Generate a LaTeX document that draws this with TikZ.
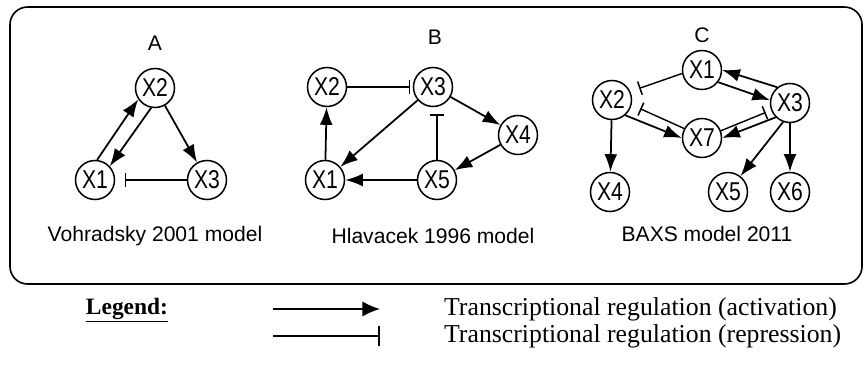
\documentclass[tikz,border=0pt]{standalone}
\usepackage{fontspec}
\setmainfont{Liberation Serif}
\newfontfamily\arialfont{Liberation Sans}
\newfontfamily\genefont[FakeStretch=0.82]{Liberation Sans}
\usetikzlibrary{arrows.meta}

\tikzset{
  gene/.style={draw,circle,line width=1.3pt,minimum size=1.17cm,inner sep=0pt,
    font=\genefont\fontsize{22}{22}\selectfont},
  panel/.style={font=\arialfont\fontsize{18}{20}\selectfont},
  act/.style={line width=1.5pt,-{Latex[length=15pt,width=11pt]}},
  rep/.style={line width=1.2pt,-{Bar[width=12pt,line width=1.3pt]},shorten >=#1},
  rep/.default=3pt
}

\begin{document}
\begin{tikzpicture}[x=0.03cm,y=-0.03cm]
\useasboundingbox (0,0) rectangle (864,368);
\draw[line width=1.4pt,rounded corners=15pt] (10,7) rectangle (862,284);

% model A
\node[panel] (labA) at (155,43) {A};
\node[gene] (a2) at (155,88) {X2};
\node[gene] (a1) at (95,180) {X1};
\node[gene] (a3) at (207,180) {X3};
\draw[act] (a1.84) -- (a2.214);
\draw[act] (a2.259) -- (a1.43);
\draw[act] (a2) -- (a3);
\draw[rep=8pt] (a3) -- (a1);
\node[panel] (capA) at (155,236) {Vohradsky 2001 model};

% model B
\node[panel] (labB) at (435,37) {B};
\node[gene] (b2) at (327,87) {X2};
\node[gene] (b3) at (433,87) {X3};
\node[gene] (b4) at (518,135) {X4};
\node[gene] (b1) at (325,180) {X1};
\node[gene] (b5) at (437,180) {X5};
\draw[rep=2pt] (b2) -- (b3);
\draw[act] (b1) -- (b2);
\draw[act] (b3) -- (b4);
\draw[act] (b4) -- (b5);
\draw[act] (b5) -- (b1);
\draw[act] (b3) -- (b1);
\draw[rep=6pt] (b5) -- (b5 |- b3.south);
\node[panel] (capB) at (433,236) {Hlavacek 1996 model};

% model C
\node[panel] (labC) at (702,35) {C};
\node[gene] (c1) at (702,70) {X1};
\node[gene] (c2) at (612,100) {X2};
\node[gene] (c3) at (790,103) {X3};
\node[gene] (c7) at (702,138) {X7};
\node[gene] (c4) at (610,192) {X4};
\node[gene] (c5) at (728,192) {X5};
\node[gene] (c6) at (790,192) {X6};
\draw[act] (c1.-37) -- (c3.172);
\draw[act] (c3.129) -- (c1.0);
\draw[rep=8pt] (c1.190) -- (c2.25);
\draw[rep=8pt] (c7.152) -- (c2.-14);
\draw[act] (c2.-49) -- (c7.180);
\draw[rep=5pt] (c7.21) -- (c3.201);
\draw[act] (c3.225) -- (c7.0);
\draw[act] (c2) -- (c4);
\draw[act] (c3.-110) -- (c5);
\draw[act] (c3) -- (c6);
\node[panel] (capC) at (707,234) {BAXS model 2011};

% legend
\node[font=\bfseries\fontsize{20}{22}\selectfont] (legend) at (127,310) {\underline{Legend:}};
\coordinate (actL) at (273,309);
\coordinate (actR) at (380,309);
\coordinate (repL) at (273,336);
\coordinate (repR) at (380,336);
\draw[line width=1.5pt,-{Latex[length=15pt,width=13pt]}] (actL) -- (actR);
\draw[line width=1.5pt,-{Bar[width=17pt,line width=1.3pt]}] (repL) -- (repR);
\node[anchor=west,font=\fontsize{22}{25}\selectfont] (actText) at (440,309) {Transcriptional regulation (activation)};
\node[anchor=west,font=\fontsize{22}{25}\selectfont] (repText) at (440,336) {Transcriptional regulation (repression)};
\end{tikzpicture}
\end{document}
